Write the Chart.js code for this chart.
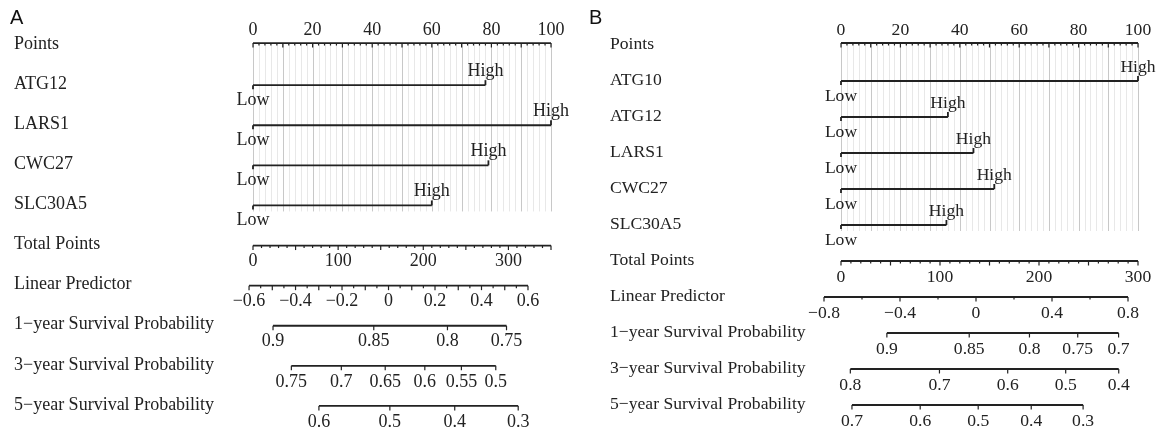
<!DOCTYPE html>
<html>
<head>
<meta charset="utf-8">
<script src="https://cdn.jsdelivr.net/npm/chart.js@4.4.0/dist/chart.umd.min.js"></script>
<style>
  body { margin: 0; background: #fff; }
  #wrap { position: relative; width: 1159px; height: 431px; }
  canvas { position: absolute; top: 0; }
</style>
</head>
<body>
<div id="wrap">
  <canvas id="nomoA" width="580" height="431" style="left:0"></canvas>
  <canvas id="nomoB" width="579" height="431" style="left:580px"></canvas>
</div>
<script>
// ---- Panel A: four-gene model ----
const genesA = ['ATG12', 'LARS1', 'CWC27', 'SLC30A5'];
const highPointsA = [78, 100, 79, 60];
const totalMaxA = 350;
const totalLabelsA = [0, 100, 200, 300];
const lpRangeA = [-0.583, 0.699];          // linear predictor at 0 and at max total points
const lpLabelsA = [-0.6, -0.4, -0.2, 0, 0.2, 0.4, 0.6];
const surv1yA = [0.9, 0.85, 0.8, 0.75];
const surv3yA = [0.75, 0.7, 0.65, 0.6, 0.55, 0.5];
const surv5yA = [0.6, 0.5, 0.4, 0.3];
const baseSurvA = [0.841, 0.646, 0.502];   // baseline survival at 1, 3, 5 years

// ---- Panel B: five-gene model ----
const genesB = ['ATG10', 'ATG12', 'LARS1', 'CWC27', 'SLC30A5'];
const highPointsB = [100, 36, 44.6, 51.6, 35.5];
const totalMaxB = 300;
const totalLabelsB = [0, 100, 200, 300];
const lpRangeB = [-0.7105, 0.8526];
const lpLabelsB = [-0.8, -0.4, 0, 0.4, 0.8];
const surv1yB = [0.9, 0.85, 0.8, 0.75, 0.7];
const surv3yB = [0.8, 0.7, 0.6, 0.5, 0.4];
const surv5yB = [0.7, 0.6, 0.5, 0.4, 0.3];
const baseSurvB = [0.845, 0.649, 0.504];

const FONT = 'Liberation Serif';
const INK = '#222';

function steps(lo, hi, step) {
  const out = [];
  const n = Math.round((hi - lo) / step);
  for (let k = 0; k <= n; k++) out.push(lo + k * step);
  return out;
}

function fmt(v) {
  const r = Math.round(v * 100) / 100;
  return (r < 0 ? '\u2212' : '') + String(Math.abs(r));
}

function label(ctx, s, x, y, align) {
  ctx.textAlign = align || 'center';
  ctx.textBaseline = 'middle';
  ctx.fillText(s, x, y);
}

function hLine(ctx, x1, x2, y) {
  ctx.beginPath();
  ctx.moveTo(x1, y);
  ctx.lineTo(x2, y);
  ctx.stroke();
}

function vLine(ctx, x, y1, y2) {
  ctx.beginPath();
  ctx.moveTo(x, y1);
  ctx.lineTo(x, y2);
  ctx.stroke();
}

// grid, axes and labels of one nomogram panel
function nomogramPlugin(p) {
  return {
    id: 'nomogram',
    beforeDatasetsDraw(chart) {
      const ctx = chart.ctx, sx = chart.scales.x, sy = chart.scales.y;
      const top = sy.getPixelForValue(0) - 2;
      const bottom = sy.getPixelForValue(p.genes.length) + 6;
      ctx.save();
      ctx.lineWidth = 1;
      steps(0, 100, 2).forEach(v => {
        const px = Math.round(sx.getPixelForValue(v)) + 0.5;
        ctx.strokeStyle = v % 10 === 0 ? '#c8c8c8' : '#e8e8e8';
        vLine(ctx, px, top, bottom);
      });
      ctx.restore();
    },
    afterDatasetsDraw(chart) {
      const ctx = chart.ctx;
      const sx = chart.scales.x, st = chart.scales.total, sl = chart.scales.lp, sy = chart.scales.y;
      const rowY = i => sy.getPixelForValue(i);
      const thick = 1.8;
      ctx.save();
      ctx.fillStyle = INK;
      ctx.strokeStyle = INK;
      ctx.font = p.fontSize + 'px "' + FONT + '"';

      // row names down the left side
      p.rows.forEach((name, i) => label(ctx, name, p.nameX, rowY(i) - 1, 'left'));

      // Points scale
      const y0 = rowY(0) - 2;
      ctx.lineWidth = thick;
      hLine(ctx, sx.getPixelForValue(0), sx.getPixelForValue(100), y0);
      ctx.lineWidth = 1.2;
      steps(0, 100, 2).forEach(v => vLine(ctx, sx.getPixelForValue(v), y0, y0 + (v % 10 === 0 ? 4.5 : 2.5)));
      steps(0, 100, 20).forEach(v => label(ctx, String(v), sx.getPixelForValue(v), y0 - 13));

      // one line per gene, Low at 0 and High at its points
      p.genes.forEach((g, i) => {
        const y = rowY(i + 1);
        const xl = sx.getPixelForValue(0), xh = sx.getPixelForValue(p.high[i]);
        ctx.lineWidth = thick;
        vLine(ctx, xl, y, y + 4);
        vLine(ctx, xh, y, y - 5);
        label(ctx, 'Low', xl, y + 15);
        label(ctx, 'High', xh, y - 14);
      });

      // Total points
      let r = p.genes.length + 1;
      let y = rowY(r);
      ctx.lineWidth = thick;
      hLine(ctx, st.getPixelForValue(0), st.getPixelForValue(p.totalMax), y);
      ctx.lineWidth = 1.2;
      steps(0, p.totalMax, 10).forEach(v => vLine(ctx, st.getPixelForValue(v), y, y + (v % 50 === 0 ? 4.5 : 2.5)));
      p.totalLabels.forEach(v => label(ctx, String(v), st.getPixelForValue(v), y + 16));

      // Linear predictor
      y = rowY(r + 1);
      const lo = p.lpLabels[0], hi = p.lpLabels[p.lpLabels.length - 1];
      ctx.lineWidth = thick;
      hLine(ctx, sl.getPixelForValue(lo), sl.getPixelForValue(hi), y);
      ctx.lineWidth = 1.2;
      steps(lo, hi, p.lpMinor).forEach(v => {
        const major = Math.abs(v / p.lpMajor - Math.round(v / p.lpMajor)) < 1e-6;
        vLine(ctx, sl.getPixelForValue(v), y, y + (major ? 4.5 : 2.5));
      });
      p.lpLabels.forEach(v => label(ctx, fmt(v), sl.getPixelForValue(v), y + 16));

      // Survival probabilities: S(t) = S0(t) ^ exp(lp)
      p.surv.forEach((vals, k) => {
        const yy = rowY(r + 2 + k);
        const s0 = p.baseSurv[k];
        const xs = vals.map(s => sl.getPixelForValue(Math.log(Math.log(s) / Math.log(s0))));
        ctx.lineWidth = thick;
        hLine(ctx, xs[0], xs[xs.length - 1], yy);
        ctx.lineWidth = 1.2;
        xs.forEach(px => vLine(ctx, px, yy, yy + 4.5));
        vals.forEach((s, j) => label(ctx, String(s), xs[j], yy + 16));
      });

      // panel letter
      ctx.font = '20px "Liberation Sans"';
      ctx.fillStyle = '#111';
      label(ctx, p.letter, p.letterX, 18, 'left');
      ctx.restore();
    }
  };
}

function drawNomogram(id, p) {
  p.rows = ['Points'].concat(p.genes, ['Total Points', 'Linear Predictor',
    '1\u2212year Survival Probability', '3\u2212year Survival Probability', '5\u2212year Survival Probability']);

  const datasets = p.genes.map((g, i) => ({
    label: g,
    data: [{ x: 0, y: i + 1 }, { x: p.high[i], y: i + 1 }],
    showLine: true,
    borderColor: INK,
    borderWidth: 1.8,
    pointRadius: 0
  }));

  new Chart(document.getElementById(id), {
    type: 'scatter',
    data: { datasets: datasets },
    options: {
      responsive: false,
      animation: false,
      devicePixelRatio: 1,
      layout: { padding: p.padding },
      plugins: { legend: { display: false }, tooltip: { enabled: false } },
      scales: {
        x: { type: 'linear', min: 0, max: 100, display: false },
        total: { type: 'linear', axis: 'x', min: 0, max: p.totalMax, display: false },
        lp: { type: 'linear', axis: 'x', min: p.lpRange[0], max: p.lpRange[1], display: false },
        y: { type: 'linear', reverse: true, min: -0.5, max: p.rows.length - 0.5, display: false }
      }
    },
    plugins: [nomogramPlugin(p)]
  });
}

drawNomogram('nomoA', {
  letter: 'A', letterX: 10, nameX: 14,
  genes: genesA, high: highPointsA,
  totalMax: totalMaxA, totalLabels: totalLabelsA,
  lpRange: lpRangeA, lpLabels: lpLabelsA, lpMinor: 0.05, lpMajor: 0.1,
  surv: [surv1yA, surv3yA, surv5yA], baseSurv: baseSurvA,
  fontSize: 18,
  padding: { left: 253, right: 29, top: 25, bottom: 5 }
});

drawNomogram('nomoB', {
  letter: 'B', letterX: 9, nameX: 30,
  genes: genesB, high: highPointsB,
  totalMax: totalMaxB, totalLabels: totalLabelsB,
  lpRange: lpRangeB, lpLabels: lpLabelsB, lpMinor: 0.2, lpMajor: 0.4,
  surv: [surv1yB, surv3yB, surv5yB], baseSurv: baseSurvB,
  fontSize: 17.6,
  padding: { left: 261, right: 21, top: 27, bottom: 8 }
});
</script>
</body>
</html>
